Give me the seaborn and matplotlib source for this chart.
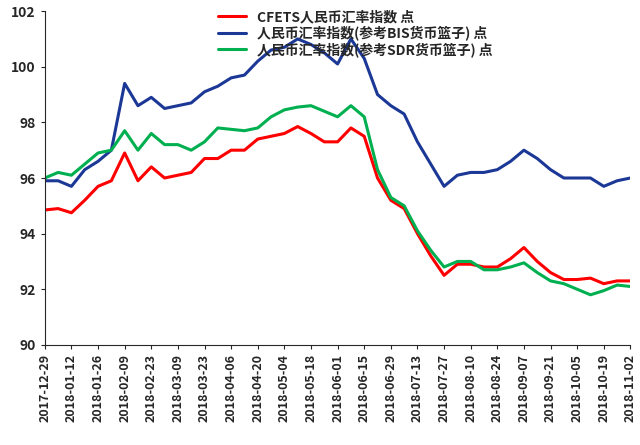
import pandas as pd
import seaborn as sns
import matplotlib.pyplot as plt

dates = pd.date_range("2017-12-29", "2018-11-02", freq="7D")
cfets = [94.85, 94.9, 94.75, 95.2, 95.7, 95.9, 96.9, 95.9, 96.4, 96.0, 96.1, 96.2, 96.7, 96.7, 97.0,
         97.0, 97.4, 97.5, 97.6, 97.85, 97.6, 97.3, 97.3, 97.8, 97.5, 96.0, 95.2, 94.9, 94.0, 93.2,
         92.5, 92.9, 92.9, 92.8, 92.8, 93.1, 93.5, 93.0, 92.6, 92.35, 92.35, 92.4, 92.2, 92.3, 92.3]
bis = [95.9, 95.9, 95.7, 96.3, 96.6, 97.0, 99.4, 98.6, 98.9, 98.5, 98.6, 98.7, 99.1, 99.3, 99.6,
       99.7, 100.2, 100.6, 100.7, 101.0, 100.8, 100.5, 100.1, 101.0, 100.3, 99.0, 98.6, 98.3, 97.3, 96.5,
       95.7, 96.1, 96.2, 96.2, 96.3, 96.6, 97.0, 96.7, 96.3, 96.0, 96.0, 96.0, 95.7, 95.9, 96.0]
sdr = [96.0, 96.2, 96.1, 96.5, 96.9, 97.0, 97.7, 97.0, 97.6, 97.2, 97.2, 97.0, 97.3, 97.8, 97.75,
       97.7, 97.8, 98.2, 98.45, 98.55, 98.6, 98.4, 98.2, 98.6, 98.2, 96.3, 95.3, 95.0, 94.1, 93.4,
       92.8, 93.0, 93.0, 92.7, 92.7, 92.8, 92.95, 92.6, 92.3, 92.2, 92.0, 91.8, 91.95, 92.15, 92.1]
names = ["CFETS人民币汇率指数 点", "人民币汇率指数(参考BIS货币篮子) 点", "人民币汇率指数(参考SDR货币篮子) 点"]
colors = ["#ff0000", "#1c3896", "#00b050"]

df = pd.DataFrame({"date": dates, names[0]: cfets, names[1]: bis, names[2]: sdr})
long = df.melt("date", var_name="series", value_name="value")

sns.set_style("white")
plt.rcParams['font.family'] = ['Noto Sans CJK SC', 'Noto Sans CJK JP', 'DejaVu Sans']
plt.rcParams['font.sans-serif'] = ['Noto Sans CJK SC', 'Noto Sans CJK JP', 'DejaVu Sans']
fig, ax = plt.subplots(figsize=(6.4, 4.45), dpi=100)
sns.lineplot(data=long, x="date", y="value", hue="series", palette=colors, linewidth=2.2, ax=ax)

ax.set_ylim(90, 102)
ax.set_yticks(range(90, 103, 2))
ax.set_xlim(dates[0], dates[-1])
ticks = dates[::2]
ax.set_xticks(ticks)
ax.set_xticklabels([d.strftime("%Y-%m-%d") for d in ticks], rotation=90, fontsize=9, fontweight='bold')
for t in ax.get_yticklabels():
    t.set_fontweight('bold')
    t.set_fontsize(10)
ax.set_xlabel("")
ax.set_ylabel("")
for s in ["top", "right"]:
    ax.spines[s].set_visible(False)
ax.tick_params(axis="both", length=3, direction="out", bottom=True, left=True)
leg = ax.legend(loc="upper center", bbox_to_anchor=(0.53, 1.04), frameon=False, fontsize=10,
                handlelength=2, labelspacing=0.1)
for t in leg.get_texts():
    t.set_fontweight('bold')
plt.subplots_adjust(left=0.07, right=0.985, top=0.975, bottom=0.225)
fig.savefig("out.png")
